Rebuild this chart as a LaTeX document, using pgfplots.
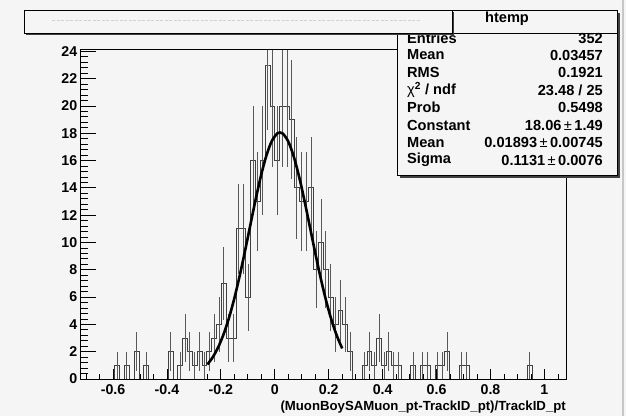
\documentclass[border=0pt]{standalone}
\usepackage{fontspec}
\setmainfont{Liberation Sans}
\usepackage{pgfplots}
\usepackage{pgfplotstable}
\pgfplotsset{compat=1.18}
\definecolor{bg}{RGB}{245,245,245}
\pgfplotstableread{
x n e
-0.711 0 0
-0.693 0 0
-0.675 0 0
-0.657 0 0
-0.639 0 0
-0.621 0 0
-0.603 0 0
-0.585 1 1
-0.567 0 0
-0.549 1 1
-0.531 0 0
-0.513 2 1.414
-0.495 0 0
-0.477 1 1
-0.459 0 0
-0.441 0 0
-0.423 0 0
-0.405 0 0
-0.387 2 1.414
-0.369 0 0
-0.351 1 1
-0.333 3 1.732
-0.315 2 1.414
-0.297 1 1
-0.279 2 1.414
-0.261 1 1
-0.243 2 1.414
-0.225 3 1.732
-0.207 4 2
-0.189 7 2.646
-0.171 3 1.732
-0.153 3 1.732
-0.135 11 3.317
-0.117 11 3.317
-0.099 6 2.449
-0.081 16 4
-0.063 13 3.606
-0.045 16 4
-0.027 23 4.796
-0.009 20 4.472
0.009 16 4
0.027 20 4.472
0.045 20 4.472
0.063 19 4.359
0.081 14 3.742
0.099 13 3.606
0.117 13 3.606
0.135 14 3.742
0.153 8 2.828
0.171 10 3.162
0.189 8 2.828
0.207 6 2.449
0.225 4 2
0.243 5 2.236
0.261 4 2
0.279 2 1.414
0.297 0 0
0.315 0 0
0.333 1 1
0.351 2 1.414
0.369 1 1
0.387 3 1.732
0.405 1 1
0.423 2 1.414
0.441 1 1
0.459 1 1
0.477 0 0
0.495 0 0
0.513 1 1
0.531 0 0
0.549 1 1
0.567 1 1
0.585 0 0
0.603 1 1
0.621 1 1
0.639 2 1.414
0.657 0 0
0.675 0 0
0.693 1 1
0.711 1 1
0.729 0 0
0.747 0 0
0.765 0 0
0.783 0 0
0.801 0 0
0.819 0 0
0.837 0 0
0.855 0 0
0.873 0 0
0.891 0 0
0.909 0 0
0.927 0 0
0.945 1 1
0.963 0 0
0.981 0 0
0.999 0 0
1.017 0 0
1.035 0 0
1.053 0 0
1.071 0 0
}\histtab
\pgfplotstableread{
x f
-0.25 1.069
-0.23 1.603
-0.21 2.328
-0.19 3.279
-0.17 4.475
-0.15 5.919
-0.13 7.589
-0.11 9.430
-0.09 11.357
-0.07 13.258
-0.05 14.999
-0.03 16.446
-0.01 17.479
0.01 18.004
0.01893 18.06
0.03 17.974
0.05 17.391
0.07 16.310
0.09 14.824
0.11 13.061
0.13 11.150
0.15 9.227
0.17 7.401
0.19 5.753
0.21 4.335
0.23 3.166
0.25 2.241
}\fittab
\newcommand{\lab}{\bfseries\fontsize{14.2bp}{16bp}\selectfont}
\newcommand{\stat}{\bfseries\fontsize{14.6bp}{16bp}\selectfont}
\begin{document}
\begin{tikzpicture}[x=1bp,y=1bp]
\useasboundingbox (0bp,0bp) rectangle (626bp,416bp);
\fill[bg] (0bp,0bp) rectangle (626bp,416bp);
\draw[black!22, line width=1.5bp] (623bp,0bp) -- (623bp,416bp);
\begin{axis}[
  at={(80.7bp,37bp)}, anchor=south west, scale only axis,
  width=485.3bp, height=329.7bp,
  xmin=-0.72, xmax=1.08, ymin=0, ymax=24.15,
  axis background/.style={fill=bg},
  xtick={-0.6,-0.4,-0.2,0,0.2,0.4,0.6,0.8,1},
  minor xtick={-0.7,-0.65,-0.55,-0.5,-0.45,-0.35,-0.3,-0.25,-0.15,-0.1,-0.05,0.05,0.1,0.15,0.25,0.3,0.35,0.45,0.5,0.55,0.65,0.7,0.75,0.85,0.9,0.95,1.05},
  ytick=\empty,
  xtick pos=bottom, tick align=inside,
  major tick length=10bp, minor tick length=5bp,
  tick style={black, line width=0.8bp},
  every tick label/.append style={font=\lab},
  xticklabel style={yshift=-2.5bp},
  /pgf/number format/assume math mode=true,
  axis line style={line width=0.8bp},
  xlabel={(MuonBoySAMuon\_pt-TrackID\_pt)/TrackID\_pt},
  xlabel style={at={(axis description cs:1,0)}, anchor=east, yshift=-28bp, inner sep=0pt, font=\bfseries\fontsize{13.2bp}{15bp}\selectfont},
]
\addplot[black!75, line width=0.8bp, const plot mark mid] table[x=x, y=n] {\histtab};
\addplot[draw=none, mark=none, restrict y to domain=0.5:100,
  error bars/.cd, y dir=both, y explicit, error mark=none,
  error bar style={black!65, line width=0.8bp}]
  table[x=x, y=n, y error=e] {\histtab};
\addplot[black, line width=2.6bp, smooth] table[x=x, y=f] {\fittab};
\end{axis}
\begin{axis}[
  at={(80.7bp,37bp)}, anchor=south west, scale only axis,
  width=485.3bp, height=329.7bp,
  xmin=-0.72, xmax=1.08, ymin=0, ymax=24.15,
  xtick=\empty,
  ytick={0,2,4,6,8,10,12,14,16,18,20,22,24}, minor y tick num=4,
  ytick pos=left, tick align=inside,
  major tick length=15bp, minor tick length=7.5bp,
  tick style={black, line width=0.8bp},
  every tick label/.append style={font=\lab},
  /pgf/number format/assume math mode=true,
  axis line style={line width=0.8bp},
]
\end{axis}
% stat box
\fill[black!75] (400bp,238bp) rectangle (620bp,403bp);
\filldraw[fill=bg, draw=black, line width=0.8bp] (397bp,241bp) rectangle (617bp,406bp);
\draw[line width=0.8bp] (397bp,383bp) -- (617bp,383bp);
\node[font=\stat] at (507bp,397.5bp) {htemp};
\begin{scope}[every node/.style={font=\stat, inner sep=0pt}]
\node[anchor=west] at (407bp,378bp) {Entries};   \node[anchor=east] at (603bp,378bp) {352};
\node[anchor=west] at (407bp,361bp) {Mean};      \node[anchor=east] at (603bp,361bp) {0.03457};
\node[anchor=west] at (407bp,343.5bp) {RMS};     \node[anchor=east] at (603bp,343.5bp) {0.1921};
\node[anchor=west] at (407bp,326bp) {{\mdseries χ}\textsuperscript{2} / ndf}; \node[anchor=east] at (603bp,326bp) {23.48 / 25};
\node[anchor=west] at (407bp,308.5bp) {Prob};    \node[anchor=east] at (603bp,308.5bp) {0.5498};
\node[anchor=west] at (407bp,291bp) {Constant};  \node[anchor=east] at (603bp,291bp) {18.06{\mdseries\,±\,}1.49};
\node[anchor=west] at (407bp,273.5bp) {Mean};    \node[anchor=east] at (603bp,273.5bp) {0.01893{\mdseries\,±\,}0.00745};
\node[anchor=west] at (407bp,256bp) {Sigma};     \node[anchor=east] at (603bp,256bp) {0.1131{\mdseries\,±\,}0.0076};
\end{scope}
% title box
\fill[black!75] (26bp,381bp) rectangle (454bp,404bp);
\filldraw[fill=bg, draw=black, line width=0.8bp] (24bp,383bp) rectangle (452bp,406bp);
\draw[black!18, line width=1bp, dash pattern=on 3bp off 1.5bp] (52bp,395bp) -- (420bp,395bp);
\end{tikzpicture}
\end{document}
